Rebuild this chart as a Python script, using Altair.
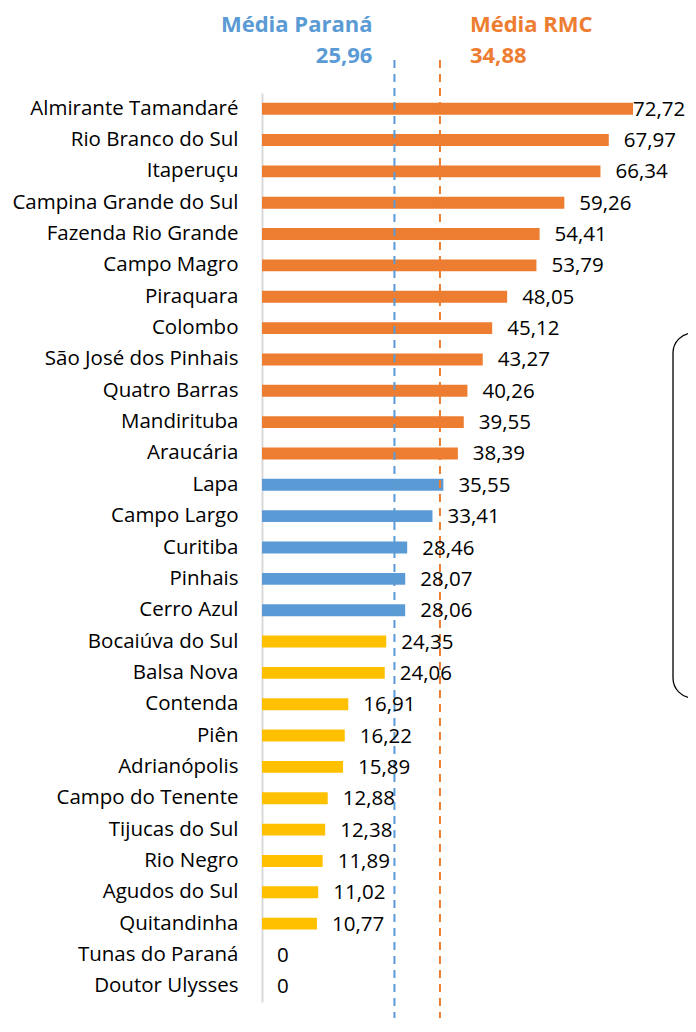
import altair as alt
import pandas as pd

municipios = [
    "Almirante Tamandaré", "Rio Branco do Sul", "Itaperuçu", "Campina Grande do Sul",
    "Fazenda Rio Grande", "Campo Magro", "Piraquara", "Colombo", "São José dos Pinhais",
    "Quatro Barras", "Mandirituba", "Araucária", "Lapa", "Campo Largo", "Curitiba",
    "Pinhais", "Cerro Azul", "Bocaiúva do Sul", "Balsa Nova", "Contenda", "Piên",
    "Adrianópolis", "Campo do Tenente", "Tijucas do Sul", "Rio Negro", "Agudos do Sul",
    "Quitandinha", "Tunas do Paraná", "Doutor Ulysses",
]
valores = [
    72.72, 67.97, 66.34, 59.26, 54.41, 53.79, 48.05, 45.12, 43.27, 40.26, 39.55, 38.39,
    35.55, 33.41, 28.46, 28.07, 28.06,
    24.35, 24.06, 16.91, 16.22, 15.89, 12.88, 12.38, 11.89, 11.02, 10.77, 0, 0,
]
grupos = ["Acima da média RMC"] * 12 + ["Entre as médias"] * 5 + ["Abaixo da média Paraná"] * 12

media_nomes = ["Média Paraná", "Média RMC"]
media_valores = [25.96, 34.88]
media_rotulos = ["25,96", "34,88"]

AZUL = "#5B9BD5"
LARANJA = "#ED7D31"
AMARELO = "#FFC000"
FONT = "Open Sans"

df = pd.DataFrame({"municipio": municipios, "valor": valores, "grupo": grupos})
dm = pd.DataFrame({"nome": media_nomes, "media": media_valores, "rotulo": media_rotulos})

LEFT = 254
W = 680 - LEFT
H = 909

xscale = alt.Scale(domain=[0, W / 5.102], nice=False, zero=True)
yenc = alt.Y(
    "municipio:N",
    sort=municipios,
    scale=alt.Scale(paddingInner=0.62, paddingOuter=0.31),
    axis=alt.Axis(
        title=None, ticks=False, tickSize=0, labelPadding=24, labelFont=FONT,
        labelFontSize=20.5, labelColor="#000000", domainColor="#D9D9D9",
        domainWidth=2, grid=False, labelLimit=400,
    ),
)

bars = alt.Chart(df).mark_bar().encode(
    x=alt.X("valor:Q", scale=xscale, axis=None),
    y=yenc,
    color=alt.Color(
        "grupo:N",
        scale=alt.Scale(
            domain=["Acima da média RMC", "Entre as médias", "Abaixo da média Paraná"],
            range=[LARANJA, AZUL, AMARELO],
        ),
        legend=None,
    ),
)

base_txt = alt.Chart(df).transform_calculate(
    rot="datum.valor == 0 ? '0' : replace(format(datum.valor, '.2f'), '.', ',')"
)
labels_main = base_txt.transform_filter("datum.valor < 70").mark_text(
    align="left", baseline="middle", dx=15, dy=1, font=FONT, fontSize=20.5, color="#000000"
).encode(x=alt.X("valor:Q", scale=xscale), y=yenc, text="rot:N")
labels_top = base_txt.transform_filter("datum.valor >= 70").mark_text(
    align="left", baseline="middle", dx=0, dy=1, font=FONT, fontSize=20.5, color="#000000"
).encode(x=alt.X("valor:Q", scale=xscale), y=yenc, text="rot:N")


def media_layers(nome, cor, align, dx):
    base = alt.Chart(dm).transform_filter(alt.datum.nome == nome)
    regra = base.mark_rule(strokeDash=[8, 6], strokeWidth=2, color=cor).encode(
        x=alt.X("media:Q", scale=xscale),
        y=alt.value(-33),
        y2=alt.value(H + 40),
    )
    t1 = base.mark_text(align=align, baseline="alphabetic", dx=dx, font=FONT, fontSize=22,
                        fontWeight="bold", color=cor).encode(
        x=alt.X("media:Q", scale=xscale), y=alt.value(-61), text="nome:N")
    t2 = base.mark_text(align=align, baseline="alphabetic", dx=dx, font=FONT, fontSize=22,
                        fontWeight="bold", color=cor).encode(
        x=alt.X("media:Q", scale=xscale), y=alt.value(-30), text="rotulo:N")
    return regra, t1, t2


pr = media_layers("Média Paraná", AZUL, "right", -22)
rmc = media_layers("Média RMC", LARANJA, "left", 30)

caixa = alt.Chart(pd.DataFrame({"k": [0]})).mark_rect(
    cornerRadius=20, fill="#FFFFFF", stroke="#000000", strokeWidth=1.3
).encode(x=alt.value(673 - 8 - LEFT), x2=alt.value(W + 60), y=alt.value(240), y2=alt.value(605))

chart = alt.layer(caixa, bars, *pr, *rmc, labels_main, labels_top).properties(
    width=W,
    height=H,
    padding={"left": LEFT, "top": 85, "right": 0, "bottom": 16},
    autosize=alt.AutoSizeParams(type="none"),
    background="#FFFFFF",
).configure_view(stroke=None)

chart.save("out.html", embed_options={"renderer": "svg", "actions": False})
